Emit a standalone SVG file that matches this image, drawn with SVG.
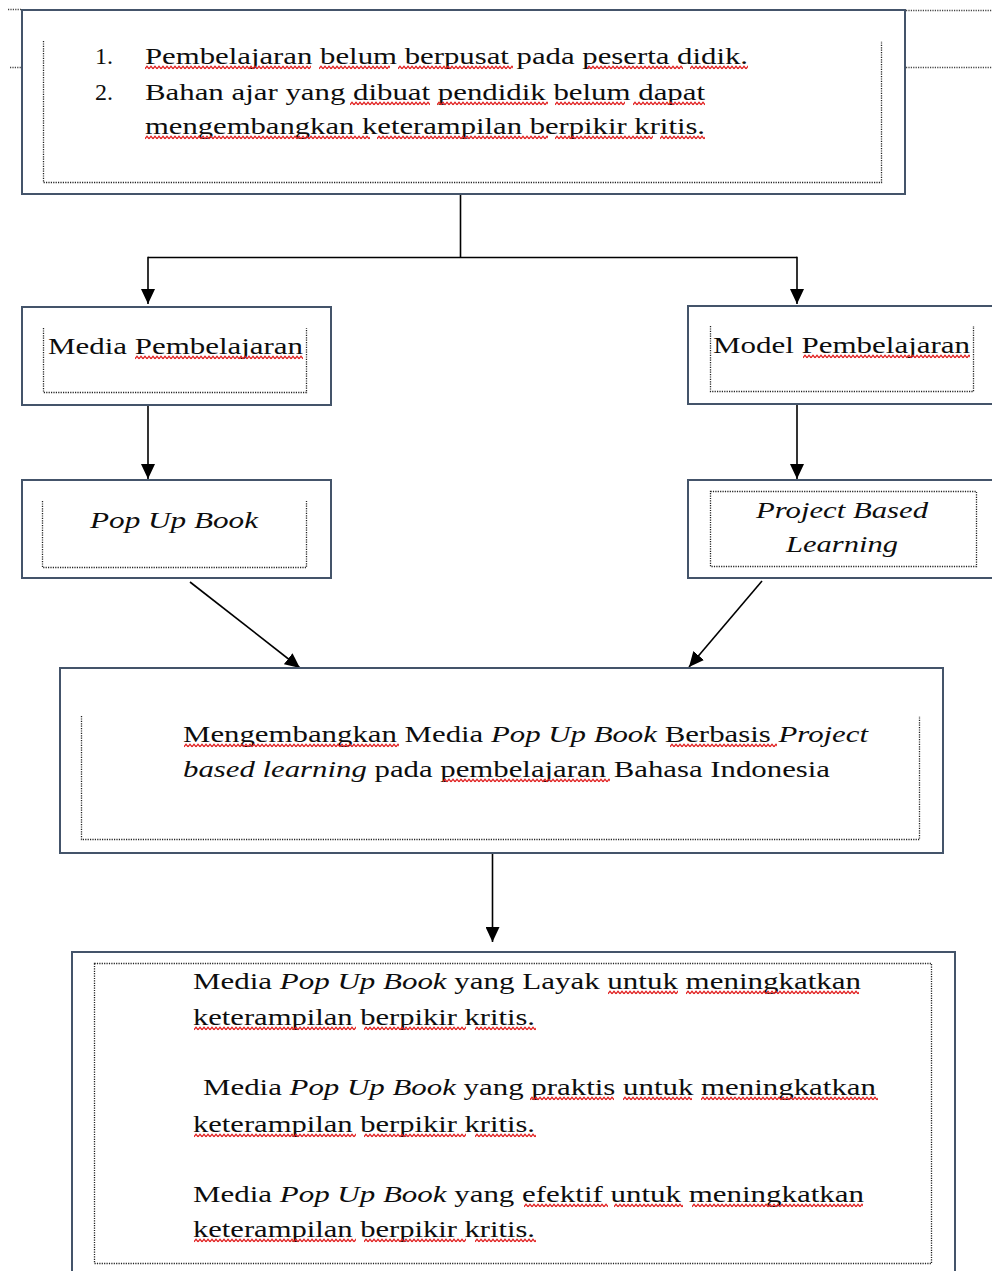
<svg xmlns="http://www.w3.org/2000/svg" width="992" height="1271" viewBox="0 0 992 1271">
<style>
.box{fill:#fff;stroke:#44546a;stroke-width:2}
.dot{fill:none;stroke:#222;stroke-width:1.3;stroke-dasharray:1.2 1.2}
.ext{fill:none;stroke:#444;stroke-width:1.3;stroke-dasharray:1.2 1.2}
.t{font-family:"Liberation Serif","Times New Roman",serif;font-size:24px;fill:#0d0d0d}
.i{font-style:italic}
.con{fill:none;stroke:#000;stroke-width:1.6}
.sq{fill:url(#wave)}
</style>
<defs>
<pattern id="wave" width="4" height="5" patternUnits="userSpaceOnUse">
<path d="M0,3.8 L2,1.2 L4,3.8" fill="none" stroke="#e01b1b" stroke-width="1.3"/>
</pattern>
<marker id="ah" markerUnits="userSpaceOnUse" markerWidth="15" markerHeight="14" refX="15" refY="7" orient="auto" viewBox="0 0 15 14">
<path d="M0,0 L15,7 L0,14 Z" fill="#000"/>
</marker>
</defs>

<g id="table-lines">
<line class="ext" x1="8" y1="9.5" x2="21" y2="9.5"/>
<line class="ext" x1="10" y1="67.5" x2="21" y2="67.5"/>
<line class="ext" x1="906" y1="10.5" x2="992" y2="10.5"/>
<line class="ext" x1="906" y1="67.5" x2="992" y2="67.5"/>
</g>

<g id="connectors">
<path class="con" d="M460.5,195 V257.5"/>
<path class="con" d="M148,257.5 H797"/>
<line class="con" x1="148" y1="256.7" x2="148" y2="304" marker-end="url(#ah)"/>
<line class="con" x1="797" y1="256.7" x2="797" y2="304" marker-end="url(#ah)"/>
<line class="con" x1="148" y1="406" x2="148" y2="479" marker-end="url(#ah)"/>
<line class="con" x1="797" y1="405" x2="797" y2="479" marker-end="url(#ah)"/>
<line class="con" x1="190" y1="582" x2="300" y2="668" marker-end="url(#ah)"/>
<line class="con" x1="762" y1="581" x2="689" y2="667" marker-end="url(#ah)"/>
<line class="con" x1="492.5" y1="854" x2="492.5" y2="942" marker-end="url(#ah)"/>
</g>

<g id="problem">
<rect class="box" x="22" y="10" width="883" height="184"/>
<path class="dot" d="M43.5,41 V182.5 H881.5 V41"/>
<text class="t" x="95" y="64">1.</text>
<text class="t" x="145" y="64" textLength="603" lengthAdjust="spacingAndGlyphs">Pembelajaran belum berpusat pada peserta didik.</text>
<text class="t" x="95" y="100">2.</text>
<text class="t" x="145" y="100" textLength="560" lengthAdjust="spacingAndGlyphs">Bahan ajar yang dibuat pendidik belum dapat</text>
<text class="t" x="145" y="134" textLength="560" lengthAdjust="spacingAndGlyphs">mengembangkan keterampilan berpikir kritis.</text>
<rect class="sq" width="166" height="5" transform="translate(145,65)"/>
<rect class="sq" width="71" height="5" transform="translate(319,65)"/>
<rect class="sq" width="115" height="5" transform="translate(398,65)"/>
<rect class="sq" width="96" height="5" transform="translate(587,65)"/>
<rect class="sq" width="58" height="5" transform="translate(690,65)"/>
<rect class="sq" width="80" height="5" transform="translate(350,101)"/>
<rect class="sq" width="111" height="5" transform="translate(437,101)"/>
<rect class="sq" width="70" height="5" transform="translate(555,101)"/>
<rect class="sq" width="72" height="5" transform="translate(633,101)"/>
<rect class="sq" width="225" height="5" transform="translate(145,135)"/>
<rect class="sq" width="171" height="5" transform="translate(377,135)"/>
<rect class="sq" width="98" height="5" transform="translate(555,135)"/>
<rect class="sq" width="45" height="5" transform="translate(660,135)"/>
</g>

<g id="media">
<rect class="box" x="22" y="307" width="309" height="98"/>
<path class="dot" d="M43.5,328 V392.5 H306.5 V328"/>
<text class="t" x="48" y="354" textLength="255" lengthAdjust="spacingAndGlyphs">Media Pembelajaran</text>
<rect class="sq" width="168" height="5" transform="translate(135,355)"/>
</g>

<g id="popup">
<rect class="box" x="22" y="480" width="309" height="98"/>
<path class="dot" d="M42.5,501 V567.5 H306.5 V501"/>
<text class="t i" x="90" y="528" textLength="168" lengthAdjust="spacingAndGlyphs">Pop Up Book</text>
</g>

<g id="model">
<rect class="box" x="688" y="306" width="320" height="98"/>
<path class="dot" d="M710.5,326 V391.5 H973.5 V326"/>
<text class="t" x="713" y="353" textLength="257" lengthAdjust="spacingAndGlyphs">Model Pembelajaran</text>
<rect class="sq" width="167" height="5" transform="translate(803,354)"/>
</g>

<g id="pjbl">
<rect class="box" x="688" y="480" width="320" height="98"/>
<rect class="dot" x="710.5" y="491.5" width="266" height="75"/>
<text class="t i" x="756" y="518" textLength="172" lengthAdjust="spacingAndGlyphs">Project Based</text>
<text class="t i" x="786" y="552" textLength="112" lengthAdjust="spacingAndGlyphs">Learning</text>
</g>

<g id="develop">
<rect class="box" x="60" y="668" width="883" height="185"/>
<path class="dot" d="M81.5,716 V839.5 H919.5 V716"/>
<text class="t" x="183" y="742" textLength="685" lengthAdjust="spacingAndGlyphs">Mengembangkan Media <tspan class="i">Pop Up Book</tspan> Berbasis <tspan class="i">Project</tspan></text>
<text class="t" x="183" y="777" textLength="647" lengthAdjust="spacingAndGlyphs"><tspan class="i">based learning</tspan> pada pembelajaran Bahasa Indonesia</text>
<rect class="sq" width="215" height="5" transform="translate(184,743)"/>
<rect class="sq" width="107" height="5" transform="translate(670,743)"/>
<rect class="sq" width="167" height="5" transform="translate(443,778)"/>
</g>

<g id="outcomes">
<rect class="box" x="72" y="952" width="883" height="330"/>
<rect class="dot" x="94.5" y="963.5" width="837" height="300"/>
<text class="t" x="193" y="989" textLength="668" lengthAdjust="spacingAndGlyphs">Media <tspan class="i">Pop Up Book</tspan> yang Layak untuk meningkatkan</text>
<text class="t" x="193" y="1025" textLength="342" lengthAdjust="spacingAndGlyphs">keterampilan berpikir kritis.</text>
<text class="t" x="203" y="1095" textLength="673" lengthAdjust="spacingAndGlyphs">Media <tspan class="i">Pop Up Book</tspan> yang praktis untuk meningkatkan</text>
<text class="t" x="193" y="1132" textLength="342" lengthAdjust="spacingAndGlyphs">keterampilan berpikir kritis.</text>
<text class="t" x="193" y="1202" textLength="671" lengthAdjust="spacingAndGlyphs">Media <tspan class="i">Pop Up Book</tspan> yang efektif untuk meningkatkan</text>
<text class="t" x="193" y="1237" textLength="342" lengthAdjust="spacingAndGlyphs">keterampilan berpikir kritis.</text>
<rect class="sq" width="70" height="5" transform="translate(608,990)"/>
<rect class="sq" width="173" height="5" transform="translate(686,990)"/>
<rect class="sq" width="162" height="5" transform="translate(194,1026)"/>
<rect class="sq" width="102" height="5" transform="translate(364,1026)"/>
<rect class="sq" width="61" height="5" transform="translate(475,1026)"/>
<rect class="sq" width="84" height="5" transform="translate(530,1096)"/>
<rect class="sq" width="69" height="5" transform="translate(623,1096)"/>
<rect class="sq" width="177" height="5" transform="translate(701,1096)"/>
<rect class="sq" width="162" height="5" transform="translate(194,1133)"/>
<rect class="sq" width="102" height="5" transform="translate(364,1133)"/>
<rect class="sq" width="61" height="5" transform="translate(475,1133)"/>
<rect class="sq" width="84" height="5" transform="translate(524,1203)"/>
<rect class="sq" width="69" height="5" transform="translate(614,1203)"/>
<rect class="sq" width="171" height="5" transform="translate(692,1203)"/>
<rect class="sq" width="162" height="5" transform="translate(194,1238)"/>
<rect class="sq" width="102" height="5" transform="translate(364,1238)"/>
<rect class="sq" width="61" height="5" transform="translate(475,1238)"/>
</g>
</svg>
